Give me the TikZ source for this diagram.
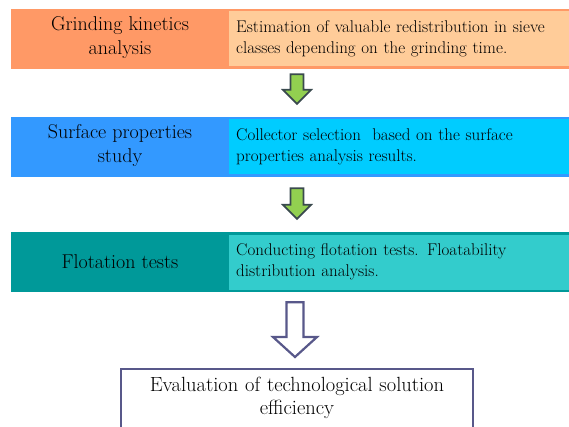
\documentclass[tikz,border=0pt]{standalone}
\usepackage{tikz}
\usetikzlibrary{positioning,calc}

\definecolor{grindDark}{HTML}{FF9966}
\definecolor{grindLight}{HTML}{FFCC99}
\definecolor{surfDark}{HTML}{3399FF}
\definecolor{surfLight}{HTML}{00CCFF}
\definecolor{flotDark}{HTML}{009999}
\definecolor{flotLight}{HTML}{33CCCC}
\definecolor{arrowGreen}{HTML}{92D050}
\definecolor{arrowEdge}{HTML}{3A4A4E}
\definecolor{frameEdge}{HTML}{58588A}

\begin{document}
\begin{tikzpicture}[
  x=1pt,y=1pt,
  band/.style={minimum width=564pt, minimum height=60pt, inner sep=0pt},
  title/.style={align=center, inner sep=0pt, font=\fontsize{20}{24}\selectfont},
  desc/.style={anchor=west, align=left, text width=330pt, minimum height=55pt, inner xsep=7pt, inner ysep=0pt, font=\fontsize{17}{21}\selectfont},
  greenarr/.style={draw=arrowEdge, fill=arrowGreen, line width=1.8pt},
  openarr/.style={draw=frameEdge, fill=white, line width=2.2pt},
  endtext/.style={align=center, text width=340pt, minimum width=352pt, inner sep=0pt, font=\fontsize{20.5}{23}\selectfont},
  frame/.style={draw=frameEdge, line width=2.4pt}
]
\clip (0,0) rectangle (569,426);

% three stages
\node[band, fill=grindDark] (grind) at (293,387) {};
\node[title] (grindT) at (120,388) {Grinding kinetics\\analysis};
\node[desc, fill=grindLight] (grindD) at (229,387) {Estimation of valuable redistribution in sieve\\classes depending on the grinding time.};

\node[band, fill=surfDark] (surf) at (293,279) {};
\node[title] (surfT) at (120,280) {Surface properties\\study};
\node[desc, fill=surfLight] (surfD) at (229,279) {Collector selection\ \ based on the surface\\properties analysis results.};

\node[band, fill=flotDark] (flot) at (293,164) {};
\node[title] (flotT) at (120,164) {Flotation tests};
\node[desc, fill=flotLight] (flotD) at (229,164) {Conducting flotation tests. Floatability\\distribution analysis.};

% result box, open at the bottom
\node[endtext, anchor=north] (final) at (297,49) {Evaluation of technological solution\\efficiency};
\draw[frame] ($(final.south west)+(0,-20)$) |- ($(final.north)+(0,8)$) -| ($(final.south east)+(0,-20)$);

% block arrows between the stages
\coordinate (a1top) at ($(grind.south -| final.north)+(0,-5)$);
\coordinate (a1tip) at ($(surf.north -| final.north)+(0,13)$);
\coordinate (a2top) at ($(surf.south -| final.north)+(0,-11)$);
\coordinate (a2tip) at ($(flot.north -| final.north)+(0,13)$);
\coordinate (a3top) at ($(flot.south -| final.north)+(-2,-10)$);
\coordinate (a3tip) at ($(final.north)+(-2,20)$);

\foreach \from/\to in {a1top/a1tip, a2top/a2tip}
  \draw[greenarr] ($(\from)+(-6.5,0)$) -- ($(\from)+(6.5,0)$) -- ($(\to)+(6.5,14)$) -- ($(\to)+(14,14)$)
    -- (\to) -- ($(\to)+(-14,14)$) -- ($(\to)+(-6.5,14)$) -- cycle;

\draw[openarr] ($(a3top)+(-8.5,0)$) -- ($(a3top)+(8.5,0)$) -- ($(a3tip)+(8.5,20)$) -- ($(a3tip)+(22,20)$)
  -- (a3tip) -- ($(a3tip)+(-22,20)$) -- ($(a3tip)+(-8.5,20)$) -- cycle;
\end{tikzpicture}
\end{document}
